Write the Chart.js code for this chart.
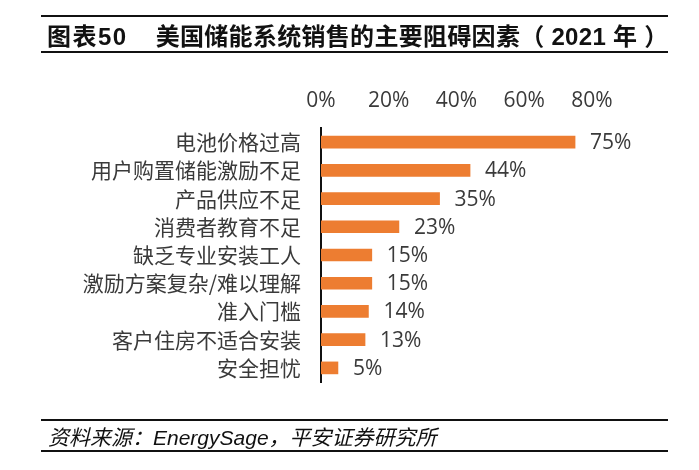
<!DOCTYPE html>
<html>
<head>
<meta charset="utf-8">
<script src="https://cdn.jsdelivr.net/npm/chart.js@4.4.0/dist/chart.umd.min.js"></script>
<style>
  body { margin: 0; background: #fff; }
  #wrap { position: relative; width: 699px; height: 470px; overflow: hidden; }
  #myChart { position: absolute; left: 0; top: 0; }
  .rule { position: absolute; left: 41px; width: 627px; border-top: 2px solid #111; border-bottom: 2px solid #111; white-space: nowrap; }
  #title { top: 15px; height: 34px; line-height: 34px; font: bold 24px "Liberation Sans", "Noto Sans CJK SC", sans-serif; color: #111; }
  #source { top: 419px; height: 29px; line-height: 29px; font: italic 21px "Liberation Sans", "Noto Sans CJK SC", sans-serif; color: #111; }
</style>
</head>
<body>
<div id="wrap">
  <canvas id="myChart" width="699" height="470"></canvas>
  <div id="title" class="rule"><span style="padding-left:6px;letter-spacing:1.5px">图表50</span><span style="padding-left:28px;letter-spacing:0.3px">美国储能系统销售的主要阻碍因素（ 2021 年 ）</span></div>
  <div id="source" class="rule"><span style="padding-left:7px">资料来源：EnergySage，平安证券研究所</span></div>
</div>
<script>
var categories = ["电池价格过高", "用户购置储能激励不足", "产品供应不足", "消费者教育不足",
                  "缺乏专业安装工人", "激励方案复杂/难以理解", "准入门槛", "客户住房不适合安装", "安全担忧"];
var shares = [75, 44, 35, 23, 15, 15, 14, 13, 5];
var tickValues = [0, 20, 40, 60, 80];

var textColor = "#3a3a3a";

// write the percentage next to each bar
var barLabels = {
  id: "barLabels",
  afterDatasetsDraw: function (chart) {
    var ctx = chart.ctx;
    var meta = chart.getDatasetMeta(0);
    ctx.save();
    ctx.font = '21px "Open Sans", "Noto Sans", sans-serif';
    ctx.fillStyle = textColor;
    ctx.textAlign = "left";
    ctx.textBaseline = "middle";
    meta.data.forEach(function (bar, i) {
      ctx.fillText(shares[i] + "%", bar.x + 15, bar.y + 1);
    });
    ctx.restore();
  }
};

new Chart("myChart", {
  type: "bar",
  data: {
    labels: categories,
    datasets: [{
      data: shares,
      backgroundColor: "#ED7D31",
      barThickness: 12
    }]
  },
  options: {
    indexAxis: "y",
    responsive: false,
    animation: false,
    layout: { padding: { left: 0, top: 0, right: 107, bottom: 88 } },
    plugins: {
      legend: { display: false },
      tooltip: { enabled: false }
    },
    scales: {
      x: {
        position: "top",
        min: 0,
        max: 80,
        afterBuildTicks: function (scale) {
          scale.ticks = tickValues.map(function (v) { return { value: v }; });
        },
        afterFit: function (scale) { scale.height = 128; },
        grid: { display: false, drawTicks: false },
        border: { display: false },
        ticks: {
          padding: 14,
          color: textColor,
          font: { family: '"Open Sans", "Noto Sans", sans-serif', size: 21 },
          callback: function (v) { return v + "%"; }
        }
      },
      y: {
        afterFit: function (scale) { scale.width = 321; },
        grid: { display: false, drawTicks: false },
        border: { display: true, color: "#111", width: 2 },
        ticks: {
          padding: 20,
          color: textColor,
          font: { family: '"Noto Sans CJK SC", sans-serif', size: 21 }
        }
      }
    }
  },
  plugins: [barLabels]
});
</script>
</body>
</html>
